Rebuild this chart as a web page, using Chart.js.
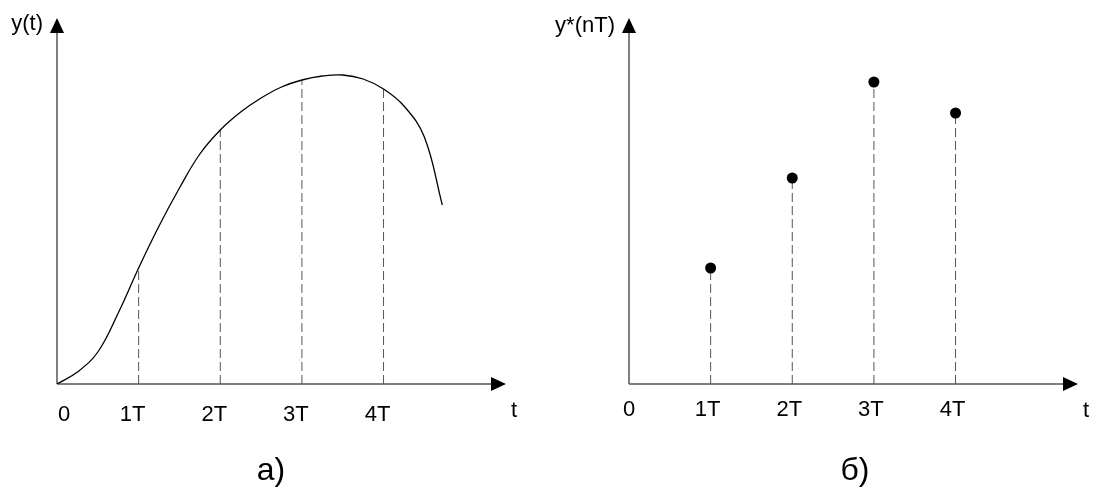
<!DOCTYPE html>
<html>
<head>
<meta charset="utf-8">
<script src="https://cdn.jsdelivr.net/npm/chart.js@4.4.1/dist/chart.umd.min.js"></script>
<style>
  html, body { margin: 0; padding: 0; background: #fff; }
  #wrap { position: relative; width: 1093px; height: 497px; overflow: hidden; }
  #wrap canvas { position: absolute; top: 0; }
</style>
</head>
<body>
<div id="wrap">
  <canvas id="continuous" width="546" height="497" style="left:0"></canvas>
  <canvas id="sampled" width="547" height="497" style="left:546px"></canvas>
</div>
<script>
// Time axis labels, in multiples of the sampling period T
const tickLabels = ['0', '1T', '2T', '3T', '4T'];

// Continuous signal y(t); t measured in periods T
const curveT = [0, 0.25, 0.5, 0.75, 1, 1.25, 1.5, 1.75, 2, 2.25, 2.5, 2.75, 3, 3.25, 3.5, 3.75, 4, 4.25, 4.5, 4.72];
const curveY = [0, 12, 32, 71, 116, 158, 196, 230, 254, 272, 286, 297, 304, 308, 309, 305, 295, 278, 247, 179];

// Sampling instants n = 1..4
const sampleN = [1, 2, 3, 4];

// Discrete signal y*(nT)
const sampledValues = [116, 206, 302, 271];

const FONT = "'Liberation Sans', Arial, sans-serif";

// Dashed vertical stems from the time axis up to a given height
function stems(ns, heights) {
  const pts = [];
  ns.forEach((n, i) => {
    pts.push({ x: n, y: 0 }, { x: n, y: heights[i] }, { x: n, y: null });
  });
  return pts;
}

// Axes with arrowheads, tick labels, axis names and the panel caption
const sketchAxes = {
  id: 'sketchAxes',
  beforeDatasetsDraw(chart, args, o) {
    const { ctx, chartArea: { left, right, top, bottom } } = chart;
    ctx.save();
    ctx.strokeStyle = '#555';
    ctx.lineWidth = 1.5;
    ctx.beginPath();
    ctx.moveTo(left, bottom); ctx.lineTo(right - 12, bottom);
    ctx.moveTo(left, bottom); ctx.lineTo(left, top + 12);
    ctx.stroke();
    ctx.fillStyle = '#000';
    ctx.beginPath();
    ctx.moveTo(right, bottom); ctx.lineTo(right - 15, bottom - 7); ctx.lineTo(right - 15, bottom + 7);
    ctx.closePath(); ctx.fill();
    ctx.beginPath();
    ctx.moveTo(left, top); ctx.lineTo(left - 7, top + 15); ctx.lineTo(left + 7, top + 15);
    ctx.closePath(); ctx.fill();
    ctx.restore();
  },
  afterDraw(chart, args, o) {
    const { ctx, chartArea: { left, right } } = chart;
    const xs = chart.scales.x;
    ctx.save();
    ctx.fillStyle = '#000';
    ctx.textBaseline = 'alphabetic';
    ctx.font = '22px ' + FONT;
    ctx.textAlign = 'center';
    tickLabels.forEach((lab, i) => {
      const shift = i === 0 ? o.originShift : o.tickShift;
      ctx.fillText(lab, xs.getPixelForValue(i) + shift, o.tickBaseline);
    });
    ctx.fillText(o.xName, right + 8, 417);
    ctx.textAlign = 'right';
    ctx.fillText(o.yName, left - 14, o.yNameBaseline);
    ctx.textAlign = 'center';
    ctx.font = '32px ' + FONT;
    ctx.fillText(o.caption, o.captionX, 480);
    ctx.restore();
  }
};

function baseOptions(padding, axisOpts) {
  return {
    responsive: false,
    animation: false,
    layout: { padding },
    plugins: { legend: { display: false }, tooltip: { enabled: false }, sketchAxes: axisOpts },
    scales: {
      x: { type: 'linear', min: 0, max: 5.5, display: false },
      y: { type: 'linear', min: 0, max: 366, display: false }
    }
  };
}

// а) continuous signal
const curve = curveT.map((t, i) => ({ x: t, y: curveY[i] }));
const curveAt = sampleN.map(n => curveY[curveT.indexOf(n)]);

new Chart(document.getElementById('continuous'), {
  type: 'line',
  data: {
    datasets: [
      {
        data: curve,
        borderColor: '#000',
        borderWidth: 1.3,
        pointRadius: 0,
        tension: 0.4
      },
      {
        data: stems(sampleN, curveAt),
        borderColor: '#555',
        borderWidth: 1,
        borderDash: [9, 4],
        pointRadius: 0,
        spanGaps: false,
        tension: 0
      }
    ]
  },
  options: baseOptions(
    { left: 57, right: 40, top: 18, bottom: 113 },
    { xName: 't', yName: 'y(t)', yNameBaseline: 30, caption: 'а)', captionX: 271,
      tickBaseline: 421, tickShift: -6, originShift: 7 }
  ),
  plugins: [sketchAxes]
});

// б) sampled signal
new Chart(document.getElementById('sampled'), {
  type: 'line',
  data: {
    datasets: [
      {
        data: sampleN.map((n, i) => ({ x: n, y: sampledValues[i] })),
        showLine: false,
        pointRadius: 5.5,
        pointBackgroundColor: '#000',
        pointBorderWidth: 0
      },
      {
        data: stems(sampleN, sampledValues),
        borderColor: '#555',
        borderWidth: 1,
        borderDash: [9, 4],
        pointRadius: 0,
        spanGaps: false,
        tension: 0
      }
    ]
  },
  options: baseOptions(
    { left: 83, right: 15, top: 18, bottom: 113 },
    { xName: 't', yName: 'y*(nT)', yNameBaseline: 32, caption: 'б)', captionX: 309,
      tickBaseline: 416, tickShift: -3, originShift: 0 }
  ),
  plugins: [sketchAxes]
});
</script>
</body>
</html>
